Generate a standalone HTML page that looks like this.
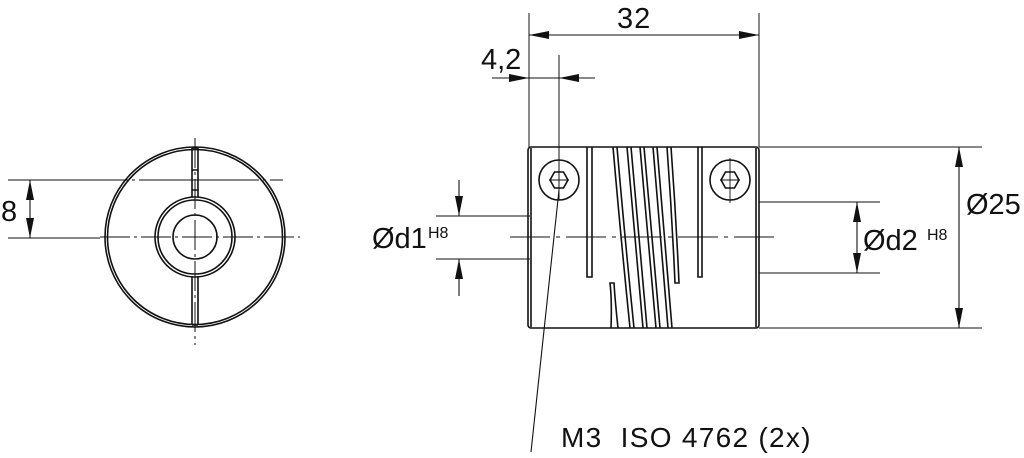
<!DOCTYPE html>
<html><head><meta charset="utf-8"><style>
html,body{margin:0;padding:0;background:#fff;}
svg{display:block;}
text{font-family:"Liberation Sans",sans-serif;fill:#111;}
</style></head><body>
<svg width="1024" height="458" viewBox="0 0 1024 458" xmlns="http://www.w3.org/2000/svg">
<defs>
<marker id="a" viewBox="0 0 20 8" refX="20" refY="4" markerWidth="20" markerHeight="8" markerUnits="userSpaceOnUse" orient="auto"><path d="M0,0 L20,4 L0,8 Z" fill="#111"/></marker>
</defs>
<g stroke="#111" fill="none" stroke-width="1.6">
<!-- left view -->
<circle cx="195" cy="237" r="90"/><circle cx="195" cy="237" r="87.5"/>
<circle cx="195" cy="237" r="40"/><circle cx="195" cy="237" r="37"/>
<circle cx="195" cy="237" r="22"/>
<path d="M192,148 V197 M198,148 V197 M192,276 V325 M198,276 V325 M192,325 H198 M192,148 H198 M192,170 H198 M192,190 H198"/>
<path d="M195,138 V345" stroke-dasharray="30,4,3,4" stroke-width="1"/>
<path d="M100,237 H300" stroke-dasharray="30,4,3,4" stroke-width="1"/>
<path d="M8,180 H283" stroke-dasharray="120,4,3,4" stroke-width="1"/>
<path d="M8,238 H100" stroke-width="1"/>
<path d="M30,208 V180" marker-end="url(#a)" stroke-width="1.1"/><path d="M30,208 V238" marker-end="url(#a)" stroke-width="1.1"/>

<!-- body -->
<rect x="528" y="147" width="231" height="181" rx="3"/>
<path d="M531,148 V327 M756,148 V327"/>
<path d="M587,147 V277 H592 V147 M698,147 V277 H702 V147"/>
<!-- helix bands -->
<path d="M613,147 Q621,240 630,328 M617,147 Q625,240 634,328"/>
<path d="M627,147 Q635,240 643,328 M631,147 Q639,240 647,328"/>
<path d="M640,147 Q648,240 656,328 M644,147 Q652,240 660,328"/>
<path d="M653,147 Q661,240 668,328 M657,147 Q665,240 672,328"/>
<path d="M667,147 Q672,215 675,283 H679 Q676,215 671,147"/>
<path d="M611,328 Q612,300 610,283 H614 Q615,300 618,328"/>
<!-- screws -->
<circle cx="559" cy="180" r="20"/><circle cx="730" cy="180" r="20"/>
<polygon points="550,180 554.5,172 563.5,172 568,180 563.5,188 554.5,188"/>
<polygon points="721,180 725.5,172 734.5,172 739,180 734.5,188 725.5,188"/>
<path d="M549,180 H569 M559,170 V190 M720,180 H740 M730,170 V190 M730,158 V203" stroke-width="0.9"/>
<path d="M510,237 H780" stroke-dasharray="40,6,4,6" stroke-width="1"/>
<!-- leader -->
<path d="M559,190 L531,452" stroke-width="1.1"/>
<!-- top dims -->
<path d="M529,13 V147 M759,13 V147 M559,55 V200" stroke-width="1"/>
<path d="M644,35 H529" marker-end="url(#a)" stroke-width="1.1"/><path d="M644,35 H759" marker-end="url(#a)" stroke-width="1.1"/>
<path d="M492,78 H529" marker-end="url(#a)" stroke-width="1.1"/><path d="M595,78 H559" marker-end="url(#a)" stroke-width="1.1"/>
<path d="M529,78 H559" stroke-width="1.1"/>
<!-- d1 -->
<path d="M436,216 H530 M436,259 H530" stroke-width="1"/>
<path d="M459,180 V216" marker-end="url(#a)" stroke-width="1.1"/><path d="M459,296 V259" marker-end="url(#a)" stroke-width="1.1"/>
<!-- d2 -->
<path d="M759,202 H880 M759,273 H880" stroke-width="1"/>
<path d="M857,237 V202" marker-end="url(#a)" stroke-width="1.1"/><path d="M857,237 V273" marker-end="url(#a)" stroke-width="1.1"/>
<!-- 25 -->
<path d="M759,147 H982 M759,328 H982" stroke-width="1"/>
<path d="M959,237 V147" marker-end="url(#a)" stroke-width="1.1"/><path d="M959,237 V328" marker-end="url(#a)" stroke-width="1.1"/>
</g>
<text x="1" y="221" font-size="29">8</text>
<text x="617" y="28" font-size="29" letter-spacing="1">32</text>
<text x="481" y="69" font-size="29">4,2</text>
<text x="372" y="248" font-size="29">Ød1</text>
<text x="428" y="238" font-size="16">H8</text>
<text x="863" y="250" font-size="29">Ød2</text>
<text x="927" y="240" font-size="16">H8</text>
<text x="966" y="214" font-size="29">Ø25</text>
<text x="561" y="447" font-size="28" letter-spacing="1.3" xml:space="preserve">M3  ISO 4762 (2x)</text>
</svg>
</body></html>
